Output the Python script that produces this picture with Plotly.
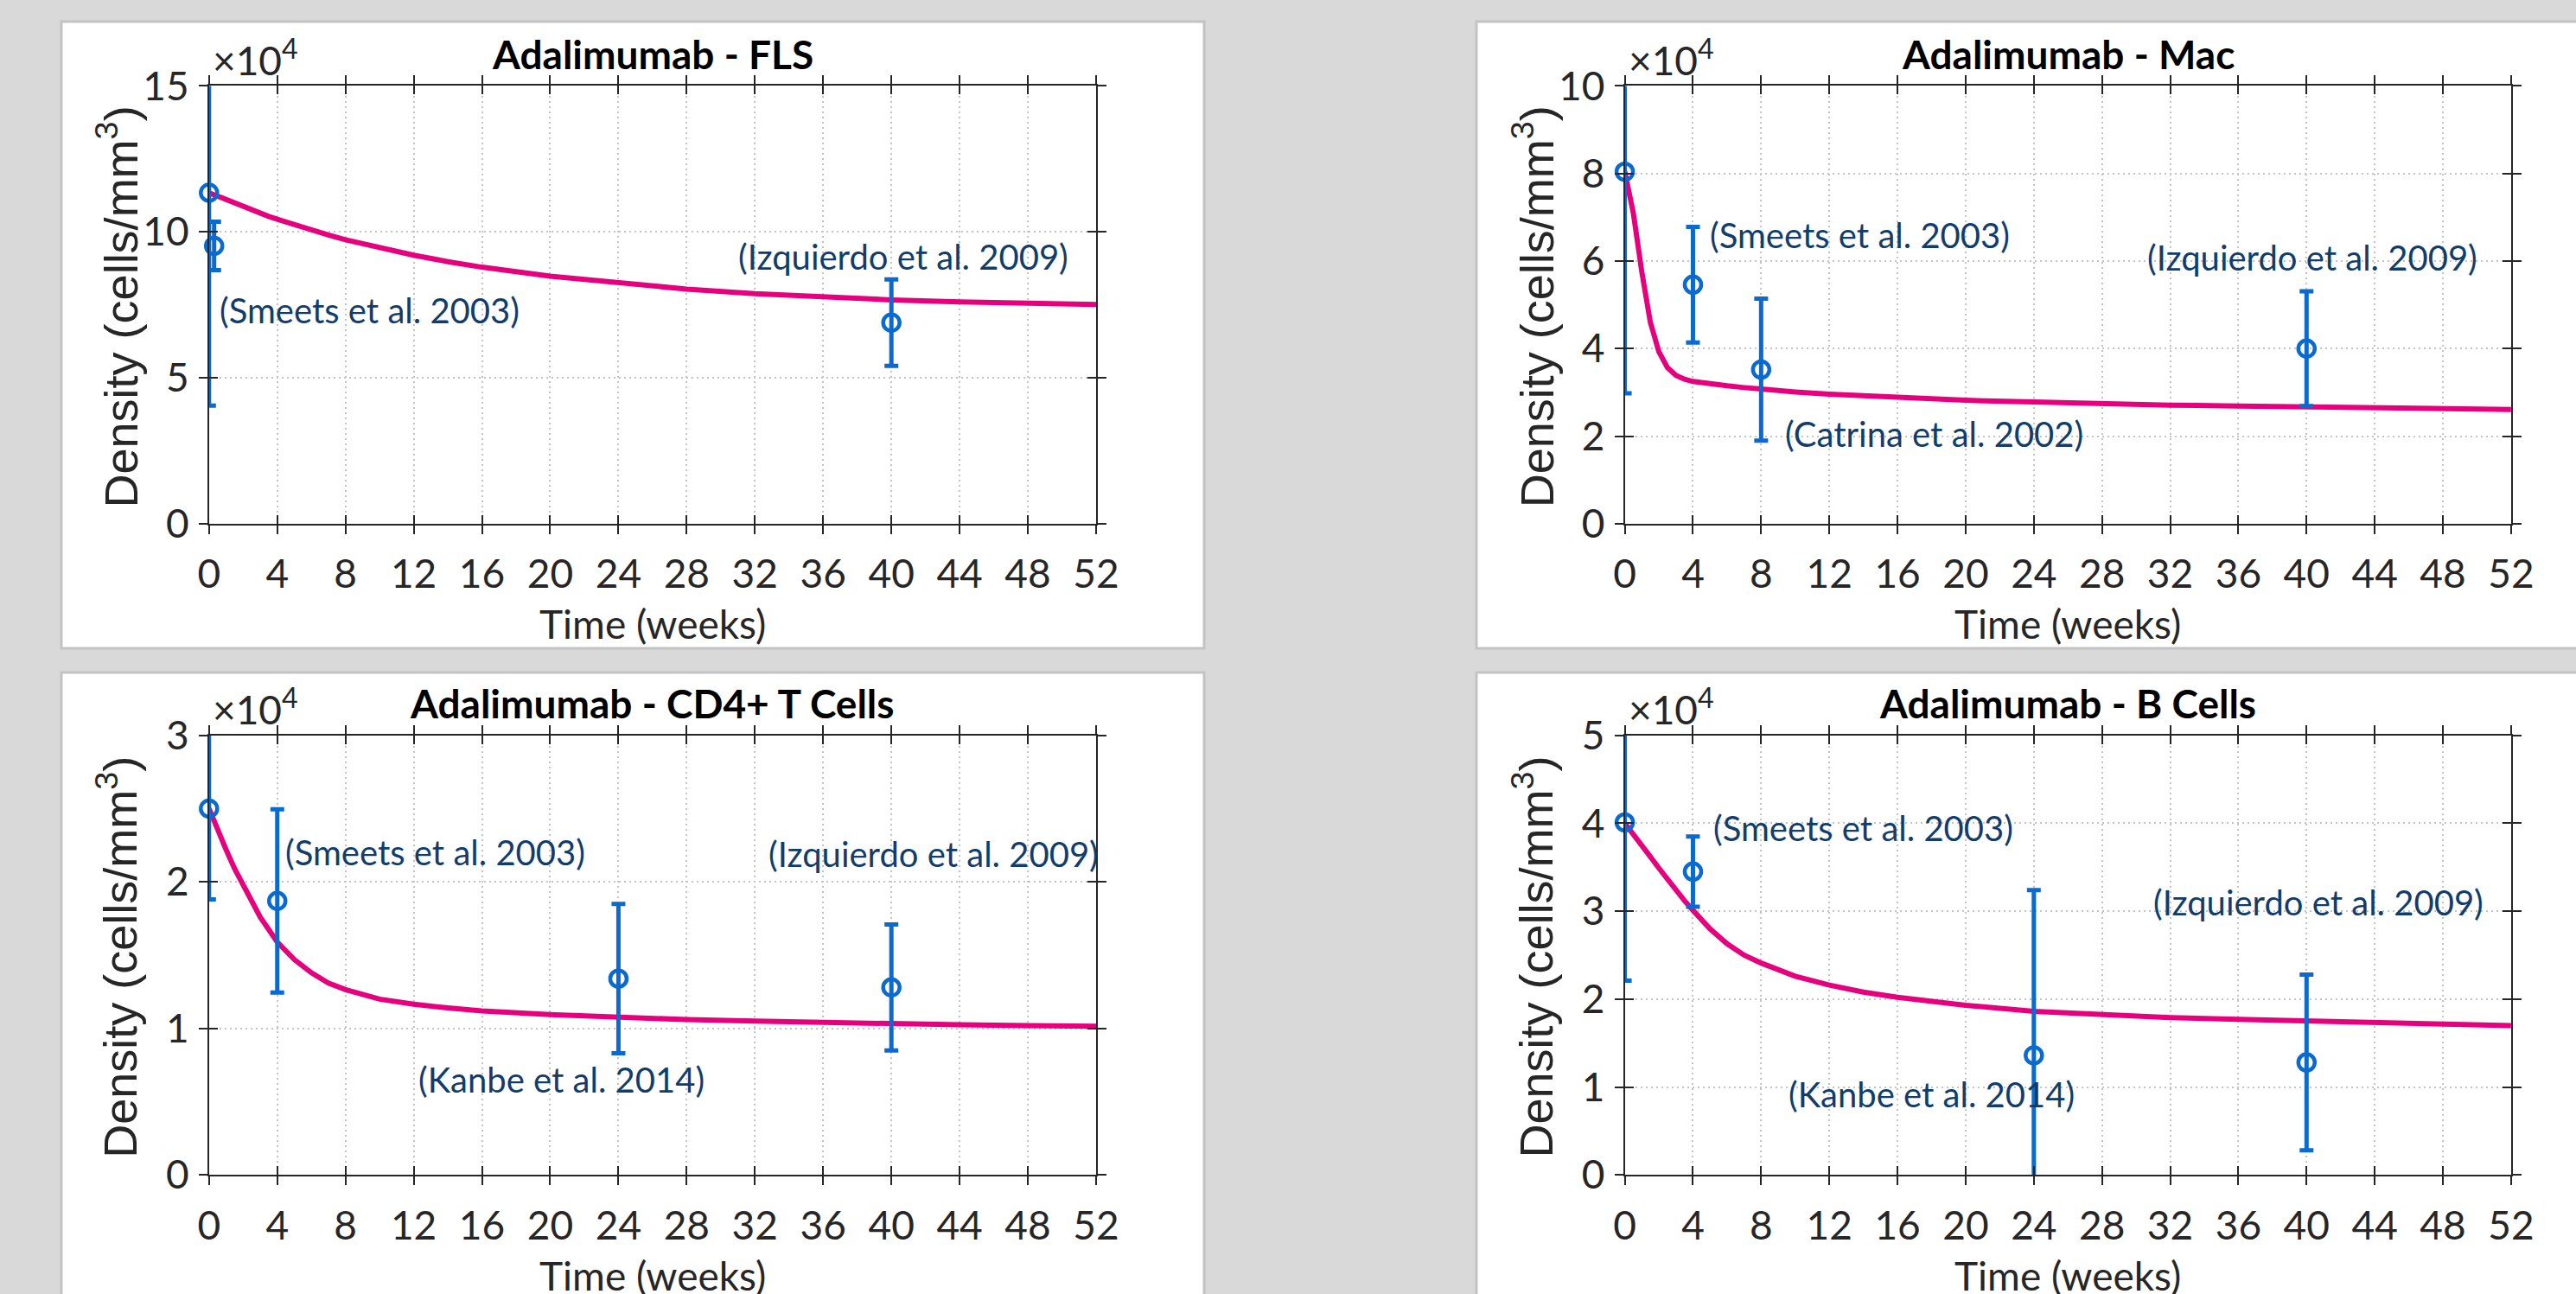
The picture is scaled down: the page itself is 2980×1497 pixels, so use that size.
import plotly.graph_objects as go

W, H = 2980, 1497

# ---------------- data (densities in units of 1e4 cells/mm^3) ----------------
weeks = [0, 0.5, 1, 1.5, 2, 2.5, 3, 3.5, 4, 5, 6, 7, 8, 10, 12, 14, 16, 20, 24, 28, 32, 36, 40, 44, 48, 52]

fls_model = [11.34, 11.22, 11.09, 10.97, 10.85, 10.74, 10.64, 10.53, 10.43, 10.24, 10.06, 9.89, 9.73,
             9.45, 9.20, 8.98, 8.79, 8.48, 8.24, 8.04, 7.88, 7.76, 7.67, 7.60, 7.55, 7.51]
mac_model = [8.04, 7.10, 5.75, 4.60, 3.93, 3.57, 3.39, 3.30, 3.25, 3.19, 3.15, 3.11, 3.07,
             3.01, 2.96, 2.92, 2.88, 2.82, 2.78, 2.74, 2.71, 2.69, 2.67, 2.65, 2.63, 2.61]
cd4_model = [2.50, 2.35, 2.22, 2.09, 1.97, 1.87, 1.76, 1.67, 1.59, 1.47, 1.38, 1.31, 1.265,
             1.20, 1.165, 1.14, 1.12, 1.095, 1.075, 1.06, 1.05, 1.04, 1.03, 1.025, 1.02, 1.015]
bcell_model = [4.00, 3.88, 3.75, 3.62, 3.49, 3.36, 3.24, 3.12, 3.01, 2.80, 2.63, 2.50, 2.41,
               2.26, 2.16, 2.08, 2.02, 1.93, 1.86, 1.82, 1.79, 1.77, 1.75, 1.73, 1.715, 1.70]

fls_obs_weeks = [0, 0.3, 40]
fls_obs = [11.34, 9.52, 6.89]
fls_obs_err = [7.29, 0.83, 1.48]

mac_obs_weeks = [0, 4, 8, 40]
mac_obs = [8.04, 5.46, 3.52, 4.00]
mac_obs_err = [5.06, 1.32, 1.62, 1.31]

cd4_obs_weeks = [0, 4, 24, 40]
cd4_obs = [2.50, 1.87, 1.34, 1.28]
cd4_obs_err = [0.62, 0.625, 0.51, 0.43]

bcell_obs_weeks = [0, 4, 24, 40]
bcell_obs = [4.01, 3.45, 1.36, 1.28]
bcell_obs_err = [1.80, 0.40, 1.88, 1.00]

titles = ["Adalimumab - FLS", "Adalimumab - Mac", "Adalimumab - CD4+ T Cells", "Adalimumab - B Cells"]
y_max = [15, 10, 3, 5]
y_step = [5, 2, 1, 1]
x_ticks = list(range(0, 53, 4))

fls_labels = [("(Smeets et al. 2003)", 0.52, 7.32), ("(Izquierdo et al. 2009)", 30.9, 9.16)]
mac_labels = [("(Smeets et al. 2003)", 4.89, 6.60), ("(Izquierdo et al. 2009)", 30.55, 6.08),
              ("(Catrina et al. 2002)", 9.3, 2.06)]
cd4_labels = [("(Smeets et al. 2003)", 4.37, 2.20), ("(Izquierdo et al. 2009)", 32.7, 2.19),
              ("(Kanbe et al. 2014)", 12.17, 0.652)]
bcell_labels = [("(Smeets et al. 2003)", 5.09, 3.95), ("(Izquierdo et al. 2009)", 30.9, 3.10),
                ("(Kanbe et al. 2014)", 9.5, 0.92)]

models = [fls_model, mac_model, cd4_model, bcell_model]
obs_w = [fls_obs_weeks, mac_obs_weeks, cd4_obs_weeks, bcell_obs_weeks]
obs_v = [fls_obs, mac_obs, cd4_obs, bcell_obs]
obs_e = [fls_obs_err, mac_obs_err, cd4_obs_err, bcell_obs_err]
labels = [fls_labels, mac_labels, cd4_labels, bcell_labels]

# ---------------- layout geometry (pixels) ----------------
def px_x(p):
    return p / W

def px_y(p):
    return 1 - p / H

plot_x = [(241.8, 1268.0), (1879.6, 2904.9), (241.8, 1268.0), (1879.6, 2904.9)]
plot_y = [(99.4, 605.9), (99.4, 605.9), (850.7, 1359.3), (850.7, 1359.3)]
box_x = [(71, 1393), (1708, 3010), (71, 1393), (1708, 3010)]
box_y = [(25, 750), (25, 750), (778, 1520), (778, 1520)]

CURVE = "#e6007e"
BLUE = "#0a6ad0"
TXT = "#123d6b"
AX = "#262626"
TICKFONT = dict(family="Lato", size=46, color=AX)
GRID = dict(showgrid=True, gridcolor="#c4c4c4", gridwidth=1.5, griddash="2px,4px")

fig = go.Figure()
layout = dict(
    template="none",
    width=W, height=H, margin=dict(l=0, r=0, t=0, b=0, pad=0), autosize=False,
    paper_bgcolor="#d9d9d9", plot_bgcolor="white", showlegend=False,
    shapes=[], annotations=[],
)

for i in range(4):
    n = i + 1
    xs = "" if n == 1 else str(n)
    xo, yo = str(n + 4), str(n + 8)
    xd = [px_x(plot_x[i][0]), px_x(plot_x[i][1])]
    yd = [px_y(plot_y[i][1]), px_y(plot_y[i][0])]
    yt = list(range(0, y_max[i] + 1, y_step[i]))

    common_x = dict(range=[0, 52], tickvals=x_ticks, zeroline=False, automargin=False)
    common_y = dict(range=[0, y_max[i]], tickvals=yt, zeroline=False, automargin=False)

    layout["xaxis" + xs] = dict(
        domain=xd, anchor="y" + xs, showline=True, linecolor=AX, linewidth=2, mirror="allticks",
        ticks="outside", ticklen=10, tickwidth=2, tickcolor=AX, tickfont=TICKFONT,
        ticklabelstandoff=7, **GRID, **common_x)
    layout["yaxis" + xs] = dict(
        domain=yd, anchor="x" + xs, showline=True, linecolor=AX, linewidth=2, mirror="allticks",
        ticks="outside", ticklen=10, tickwidth=2, tickcolor=AX, tickfont=TICKFONT,
        ticklabelstandoff=2, **GRID, **common_y)
    # overlay axes giving the inward half of the crossing ticks
    layout["xaxis" + xo] = dict(
        overlaying="x" + xs, anchor="y" + xs, showline=False, mirror="allticks",
        ticks="inside", ticklen=10, tickwidth=2, tickcolor=AX, showticklabels=False,
        showgrid=False, **common_x)
    layout["yaxis" + yo] = dict(
        overlaying="y" + xs, anchor="x" + xs, showline=False, mirror="allticks",
        ticks="inside", ticklen=10, tickwidth=2, tickcolor=AX, showticklabels=False,
        showgrid=False, **common_y)

    fig.add_trace(go.Scatter(x=[], y=[], xaxis="x" + xo, yaxis="y" + xs, hoverinfo="skip"))
    fig.add_trace(go.Scatter(x=[], y=[], xaxis="x" + xs, yaxis="y" + yo, hoverinfo="skip"))

    # model curve
    fig.add_trace(go.Scatter(x=weeks, y=models[i], mode="lines", line=dict(color=CURVE, width=6),
                             xaxis="x" + xs, yaxis="y" + xs))
    # error bars (clipped to the axes)
    fig.add_trace(go.Scatter(x=obs_w[i], y=obs_v[i], mode="markers",
                             marker=dict(size=2, opacity=0),
                             error_y=dict(type="data", array=obs_e[i], color=BLUE, thickness=5, width=8),
                             xaxis="x" + xs, yaxis="y" + xs))
    # open circle markers (not clipped)
    fig.add_trace(go.Scatter(x=obs_w[i], y=obs_v[i], mode="markers", cliponaxis=False,
                             marker=dict(symbol="circle-open", size=19, color=BLUE, line=dict(width=4.5, color=BLUE)),
                             xaxis="x" + xs, yaxis="y" + xs))

    # panel background box
    layout["shapes"].append(dict(type="rect", xref="paper", yref="paper", layer="below",
                                 x0=px_x(box_x[i][0]), x1=px_x(box_x[i][1]),
                                 y0=px_y(box_y[i][1]), y1=px_y(box_y[i][0]),
                                 fillcolor="white", line=dict(color="#c3c3c3", width=3)))

    cx = (plot_x[i][0] + plot_x[i][1]) / 2
    top = plot_y[i][0]
    bot = plot_y[i][1]
    # title
    layout["annotations"].append(dict(text="<b>" + titles[i] + "</b>", xref="paper", yref="paper",
                                      x=px_x(cx), y=px_y(top - 37), xanchor="center", yanchor="middle",
                                      showarrow=False, font=dict(family="Lato", size=46, color="black")))
    # exponent label
    layout["annotations"].append(dict(text="\u00d710<sup>4</sup>", xref="paper", yref="paper",
                                      x=px_x(plot_x[i][0] + 2), y=px_y(top - 33), xanchor="left", yanchor="middle",
                                      showarrow=False, font=dict(family="Lato", size=46, color=AX)))
    # x label
    layout["annotations"].append(dict(text="Time (weeks)", xref="paper", yref="paper",
                                      x=px_x(cx), y=px_y(bot + 116), xanchor="center", yanchor="middle",
                                      showarrow=False, font=dict(family="Lato", size=46, color=AX)))
    # y label
    layout["annotations"].append(dict(text="Density (cells/mm<sup>3</sup>)", xref="paper", yref="paper",
                                      x=px_x(plot_x[i][0] - 106), y=px_y((top + bot) / 2 + 2), textangle=-90,
                                      xanchor="center", yanchor="middle", showarrow=False,
                                      font=dict(family="Liberation Sans, Arial, DejaVu Sans", size=54, color=AX)))
    # study labels
    for (t, lx, ly) in labels[i]:
        layout["annotations"].append(dict(text=t, xref="x" + xs, yref="y" + xs, x=lx, y=ly,
                                          xanchor="left", yanchor="middle", showarrow=False,
                                          font=dict(family="Lato", size=40, color=TXT)))

fig.update_layout(**layout)
fig.write_html("out.html",
               config={"displayModeBar": False},
               post_script="document.body.style.margin='0';document.body.style.overflow='hidden';")
